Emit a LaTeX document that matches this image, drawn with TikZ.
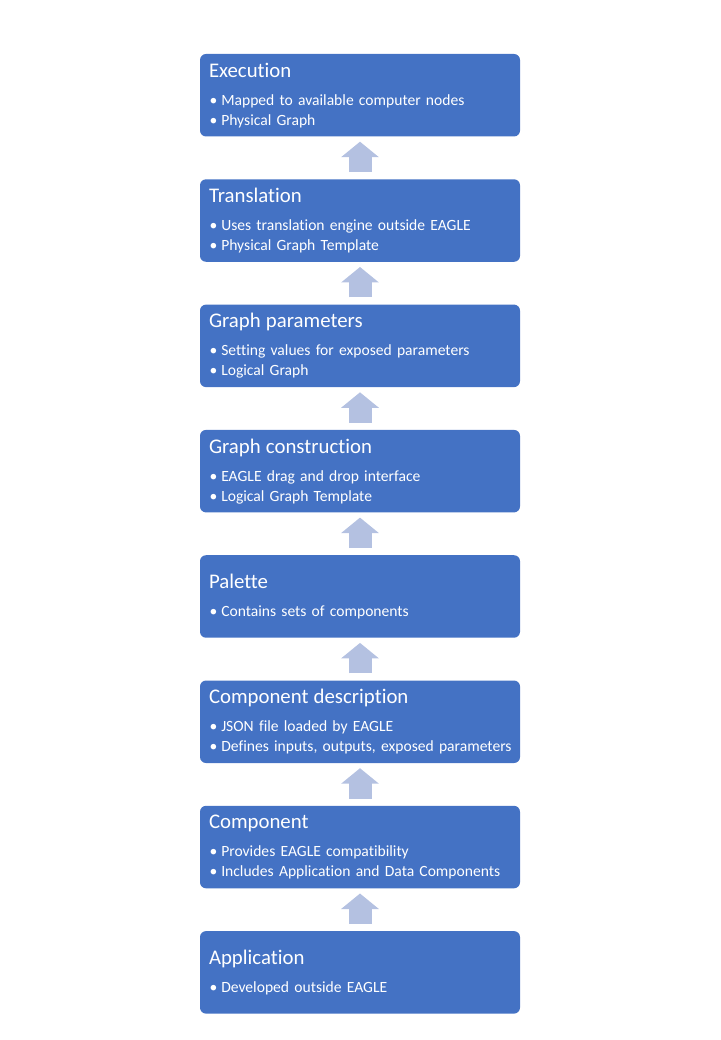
\documentclass[tikz,border=0pt]{standalone}
\usepackage{fontspec}
\setmainfont{Carlito}[Ligatures=NoCommon]
\usetikzlibrary{arrows.meta}
\hyphenpenalty=10000
\definecolor{stageblue}{HTML}{4472C4}
\definecolor{stagearrow}{HTML}{B4C1E1}
\tikzset{
  stagebox/.style={shape=rectangle, rounded corners=6pt, fill=stageblue, text=white,
    minimum width=320pt, minimum height=82.5pt, text width=306pt, align=left,
    inner xsep=7pt, inner ysep=0pt, font=\fontsize{15.6}{20}\selectfont},
  stageup/.style={draw=stagearrow, line width=23pt, shorten >=5pt, shorten <=7pt,
    -{Triangle[width=37pt,length=15.5pt]}}
}
\newcommand{\stagetitle}[1]{\hspace{2pt}{\fontsize{20.8}{24}\selectfont #1}\\[8pt]}
\newcommand{\stageitem}[1]{\hspace{2.5pt}•\hspace{4pt}#1}
\begin{document}
\begin{tikzpicture}[x=1pt, y=-1pt]
    \useasboundingbox (0,0) rectangle (720,1040);
    % stages, top to bottom
    \node[stagebox] (execution) at (360,95.25)
      {\stagetitle{Execution}\stageitem{Mapped to available computer nodes}\\\stageitem{Physical Graph}};
    \node[stagebox] (translation) at (360,220.55)
      {\stagetitle{Translation}\stageitem{Uses translation engine outside EAGLE}\\\stageitem{Physical Graph Template}};
    \node[stagebox] (parameters) at (360,345.85)
      {\stagetitle{Graph parameters}\stageitem{Setting values for exposed parameters}\\\stageitem{Logical Graph}};
    \node[stagebox] (construction) at (360,471.15)
      {\stagetitle{Graph construction}\stageitem{EAGLE drag and drop interface}\\\stageitem{Logical Graph Template}};
    \node[stagebox] (palette) at (360,596.45)
      {\stagetitle{Palette}\stageitem{Contains sets of components}};
    \node[stagebox] (description) at (360,721.75)
      {\stagetitle{Component description}\stageitem{JSON file loaded by EAGLE}\\\stageitem{Defines inputs, outputs, exposed parameters}};
    \node[stagebox] (component) at (360,847.05)
      {\stagetitle{Component}\stageitem{Provides EAGLE compatibility}\\\stageitem{Includes Application and Data Components}};
    \node[stagebox] (application) at (360,972.35)
      {\stagetitle{Application}\stageitem{Developed outside EAGLE}};
    % arrows, bottom to top
    \draw[stageup] (application) -- (component);
    \draw[stageup] (component) -- (description);
    \draw[stageup] (description) -- (palette);
    \draw[stageup] (palette) -- (construction);
    \draw[stageup] (construction) -- (parameters);
    \draw[stageup] (parameters) -- (translation);
    \draw[stageup] (translation) -- (execution);
\end{tikzpicture}
\end{document}
